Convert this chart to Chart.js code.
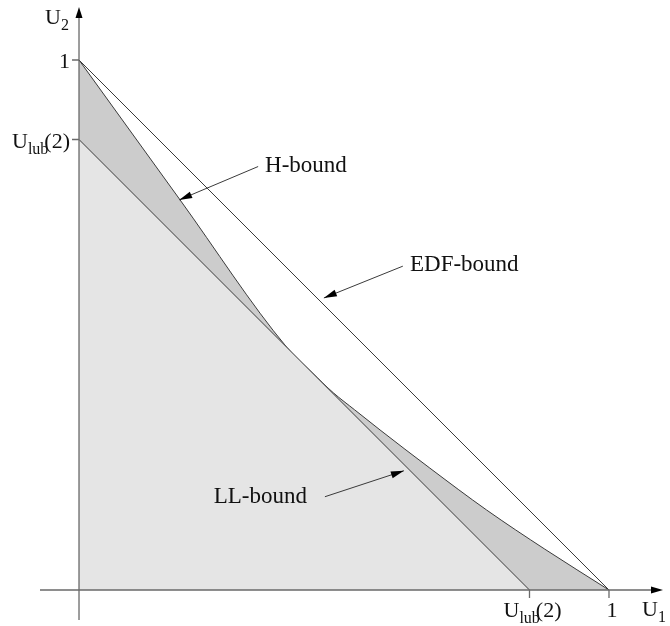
<!DOCTYPE html>
<html>
<head>
<meta charset="utf-8">
<script src="https://cdn.jsdelivr.net/npm/chart.js@4.4.1/dist/chart.umd.min.js"></script>
<style>
  html, body { margin: 0; padding: 0; background: #fff; }
  #c { display: block; }
</style>
</head>
<body>
<canvas id="c" width="670" height="626"></canvas>
<script>
// ===== DATA =====
const edfU1 = [0, 1];
const edfU2 = [1, 0];
const llU1 = [0, 0.85];
const llU2 = [0.85, 0];
const hU1 = [0, 0.19, 0.392, 0.44, 0.48, 0.52, 0.568, 0.662, 0.769, 0.879, 1.0];
const hU2 = [1.0, 0.737, 0.458, 0.410, 0.372, 0.340, 0.302, 0.230, 0.151, 0.077, 0];

const xTickVals = [0.85, 1];
const xTickLabels = ['U_lub(2)', '1'];
const yTickVals = [1, 0.85];
const yTickLabels = ['1', 'U_lub(2)'];
const xAxisTitle = 'U_1';
const yAxisTitle = 'U_2';

// annotation labels: text, where the text sits, arrow tail and arrow head (in U1/U2 units)
const noteTexts = ['H-bound', 'EDF-bound', 'LL-bound'];
const noteAnchor = [[0.351, 0.789, 'left'], [0.6245, 0.602, 'left'], [0.430, 0.164, 'right']];
const noteTail = [[0.338, 0.799], [0.611, 0.611], [0.464, 0.176]];
const noteHead = [[0.189, 0.736], [0.462, 0.551], [0.613, 0.225]];

const toPts = (xs, ys) => xs.map((x, i) => ({ x, y: ys[i] }));

const LINE = '#3a3a3a';
const AXIS = '#6a6a6a';
const SERIF = '"Liberation Serif", "DejaVu Serif", serif';

// "U_lub(2)" -> [['U',false],['lub',true],['(2)',false]]
function parseLabel(s) {
  const m = s.match(/^([^_]+)_([a-z0-9]+)(.*)$/);
  if (!m) return [[s, false]];
  const parts = [[m[1], false], [m[2], true]];
  if (m[3]) parts.push([m[3], false]);
  return parts;
}

function drawRich(ctx, s, x, y, align, size) {
  const parts = parseLabel(s);
  const subSize = Math.round(size * 0.72);
  const widths = parts.map(p => {
    ctx.font = `${p[1] ? subSize : size}px ${SERIF}`;
    return ctx.measureText(p[0]).width - (p[1] && parts.length > 2 ? 4 : 0);
  });
  const total = widths.reduce((a, b) => a + b, 0);
  let cx = align === 'right' ? x - total : align === 'center' ? x - total / 2 : x;
  ctx.textAlign = 'left';
  ctx.textBaseline = 'alphabetic';
  parts.forEach((p, i) => {
    ctx.font = `${p[1] ? subSize : size}px ${SERIF}`;
    ctx.fillText(p[0], cx, p[1] ? y + 6 : y);
    cx += widths[i];
  });
}

function arrowHead(ctx, x0, y0, x1, y1, len, half) {
  const a = Math.atan2(y1 - y0, x1 - x0);
  ctx.beginPath();
  ctx.moveTo(x1, y1);
  ctx.lineTo(x1 - len * Math.cos(a) + half * Math.sin(a), y1 - len * Math.sin(a) - half * Math.cos(a));
  ctx.lineTo(x1 - len * Math.cos(a) - half * Math.sin(a), y1 - len * Math.sin(a) + half * Math.cos(a));
  ctx.closePath();
  ctx.fill();
}

const axesPlugin = {
  id: 'axesPlugin',
  afterDatasetsDraw(chart) {
    const { ctx, chartArea: ca, scales: { x, y } } = chart;
    const x0 = x.getPixelForValue(0), y0 = y.getPixelForValue(0);
    ctx.save();
    // axis lines
    ctx.strokeStyle = AXIS;
    ctx.lineWidth = 1.3;
    ctx.beginPath();
    ctx.moveTo(ca.left, y0); ctx.lineTo(ca.right - 8, y0);
    ctx.moveTo(x0, ca.bottom); ctx.lineTo(x0, ca.top + 8);
    ctx.stroke();
    ctx.fillStyle = '#000';
    arrowHead(ctx, ca.left, y0, ca.right, y0, 12, 3.5);
    arrowHead(ctx, x0, ca.bottom, x0, ca.top, 11, 3.5);

    // ticks
    ctx.beginPath();
    xTickVals.forEach(v => { const px = x.getPixelForValue(v); ctx.moveTo(px, y0); ctx.lineTo(px, y0 + 8); });
    yTickVals.forEach(v => { const py = y.getPixelForValue(v); ctx.moveTo(x0, py); ctx.lineTo(x0 - 7, py); });
    ctx.stroke();

    // tick labels
    ctx.fillStyle = '#111';
    xTickVals.forEach((v, i) => drawRich(ctx, xTickLabels[i], x.getPixelForValue(v) + 3, y0 + 27, 'center', 22));
    yTickVals.forEach((v, i) => drawRich(ctx, yTickLabels[i], x0 - 9, y.getPixelForValue(v) + 8, 'right', 22));

    // axis titles
    drawRich(ctx, xAxisTitle, ca.right - 21, y0 + 26, 'left', 22);
    drawRich(ctx, yAxisTitle, x0 - 34, ca.top + 17, 'left', 22);

    // annotations
    ctx.strokeStyle = LINE;
    ctx.lineWidth = 1;
    noteTexts.forEach((t, i) => {
      ctx.font = `23px ${SERIF}`;
      ctx.textAlign = noteAnchor[i][2];
      ctx.textBaseline = 'alphabetic';
      ctx.fillStyle = '#111';
      ctx.fillText(t, x.getPixelForValue(noteAnchor[i][0]), y.getPixelForValue(noteAnchor[i][1]));
      const tx = x.getPixelForValue(noteTail[i][0]), ty = y.getPixelForValue(noteTail[i][1]);
      const hx = x.getPixelForValue(noteHead[i][0]), hy = y.getPixelForValue(noteHead[i][1]);
      ctx.beginPath(); ctx.moveTo(tx, ty); ctx.lineTo(hx, hy); ctx.stroke();
      ctx.fillStyle = '#000';
      arrowHead(ctx, tx, ty, hx, hy, 13, 3.5);
    });
    ctx.restore();
  }
};

new Chart(document.getElementById('c'), {
  type: 'scatter',
  data: {
    datasets: [
      { label: 'EDF-bound', data: toPts(edfU1, edfU2), showLine: true, fill: false,
        borderColor: LINE, borderWidth: 1, pointRadius: 0 },
      { label: 'LL-bound', data: toPts(llU1, llU2), showLine: true, fill: 'origin',
        backgroundColor: '#e5e5e5', borderColor: LINE, borderWidth: 1, pointRadius: 0 },
      { label: 'H-bound', data: toPts(hU1, hU2), showLine: true, fill: 'origin',
        backgroundColor: '#cccccc', borderColor: LINE, borderWidth: 1, pointRadius: 0,
        cubicInterpolationMode: 'monotone' }
    ]
  },
  options: {
    responsive: false,
    animation: false,
    layout: { padding: { left: 40, right: 7, top: 7, bottom: 6 } },
    scales: {
      x: { type: 'linear', min: -0.0736, max: 1.1019, display: false },
      y: { type: 'linear', min: -0.0566, max: 1.1, display: false }
    },
    plugins: { legend: { display: false }, tooltip: { enabled: false } }
  },
  plugins: [axesPlugin]
});
</script>
</body>
</html>
